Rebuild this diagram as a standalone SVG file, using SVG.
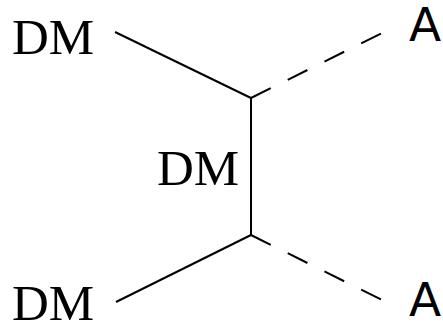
<svg xmlns="http://www.w3.org/2000/svg" width="443" height="323" viewBox="0 0 443 323">
<style>
.dm{font-family:"Liberation Serif","Times New Roman",serif;font-size:51px;fill:#000}
.a{font-family:"DejaVu Sans",sans-serif;font-size:47px;fill:#000}
.solid{stroke:#000;stroke-width:2;fill:none}
.dash{stroke:#000;stroke-width:2;fill:none;stroke-dasharray:22 19}
</style>
<rect width="443" height="323" fill="#fff"/>
<g id="connectors">
<line class="solid" x1="115" y1="32" x2="251" y2="98"/>
<line class="dash" x1="251" y1="98" x2="384" y2="32"/>
<line class="solid" x1="251" y1="98" x2="251" y2="235"/>
<line class="solid" x1="251" y1="235" x2="116" y2="302"/>
<line class="dash" x1="251" y1="235" x2="384" y2="301"/>
</g>
<g id="dm-top"><text class="dm" x="12" y="54">DM</text></g>
<g id="dm-mid"><text class="dm" x="157" y="185">DM</text></g>
<g id="dm-bottom"><text class="dm" x="12" y="320">DM</text></g>
<g id="a-top"><text class="a" x="409" y="41">A</text></g>
<g id="a-bottom"><text class="a" x="409" y="316">A</text></g>
</svg>
